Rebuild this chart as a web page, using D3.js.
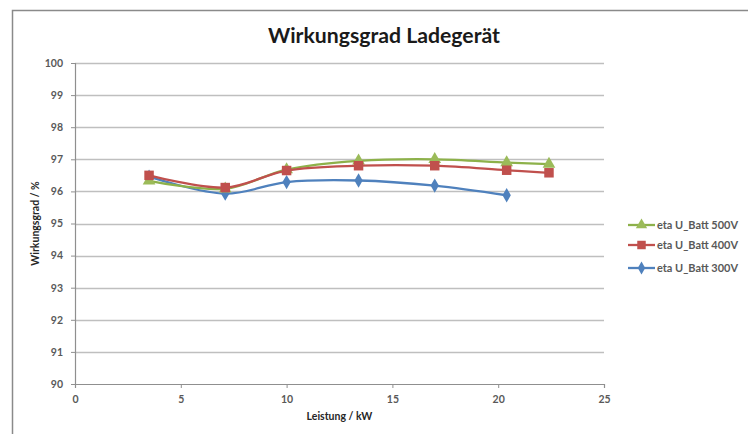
<!DOCTYPE html>
<html>
<head>
<meta charset="utf-8">
<script src="https://cdn.jsdelivr.net/npm/d3@7"></script>
<style>
  html, body { margin: 0; padding: 0; background: #fff; }
  svg { display: block; }
  text { font-family: Lato, "Open Sans", sans-serif; }
</style>
</head>
<body>
<svg id="chart" width="748" height="434"></svg>
<script>
const title = "Wirkungsgrad Ladegerät";
const xTitle = "Leistung / kW";
const yTitle = "Wirkungsgrad / %";
const xTicks = [0, 5, 10, 15, 20, 25];
const yTicks = [90, 91, 92, 93, 94, 95, 96, 97, 98, 99, 100];

const power500 = [3.5, 7.1, 10.0, 13.4, 17.0, 20.4, 22.4];
const eta500   = [96.33, 96.08, 96.68, 96.95, 97.0, 96.9, 96.85];
const power400 = [3.5, 7.1, 10.0, 13.4, 17.0, 20.4, 22.4];
const eta400   = [96.5, 96.12, 96.65, 96.8, 96.8, 96.66, 96.58];
const power300 = [3.5, 7.1, 10.0, 13.4, 17.0, 20.4];
const eta300   = [96.46, 95.93, 96.29, 96.34, 96.18, 95.88];

const seriesNames = ["eta U_Batt 500V", "eta U_Batt 400V", "eta U_Batt 300V"];

const series = [
  { name: seriesNames[0], xs: power500, ys: eta500, color: "#9BBB59", stroke: "#8db14a", symbol: d3.symbolTriangle, size: 70 },
  { name: seriesNames[1], xs: power400, ys: eta400, color: "#C0504D", stroke: "#c0504d", symbol: d3.symbolSquare, size: 90 },
  { name: seriesNames[2], xs: power300, ys: eta300, color: "#4F81BD", stroke: "#4f81bd", symbol: d3.symbolDiamond, size: 60 }
];

const svg = d3.select("#chart");

// outer frame
svg.append("path")
  .attr("d", "M12.5,434 L12.5,10.5 L748,10.5")
  .attr("fill", "none")
  .attr("stroke", "#8a8a8a")
  .attr("stroke-width", 1.5);

const x = d3.scaleLinear().domain([0, 25]).range([75, 604]);
const y = d3.scaleLinear().domain([90, 100]).range([384, 63]);

// gridlines
svg.append("g")
  .selectAll("line")
  .data(yTicks.filter(d => d !== 90))
  .join("line")
  .attr("x1", x(0)).attr("x2", x(25))
  .attr("y1", d => Math.round(y(d)) + 0.5).attr("y2", d => Math.round(y(d)) + 0.5)
  .attr("stroke", "#bfbfbf")
  .attr("stroke-width", 1.3);

const tickFont = sel => sel
  .attr("fill", "#595959")
  .style("font-size", "10.5px")
  .style("font-weight", "bold")
  .style("font-family", "Lato, 'Open Sans', sans-serif");

// y axis
const yAxis = svg.append("g")
  .attr("transform", `translate(${x(0)},0)`)
  .call(d3.axisLeft(y).tickValues(yTicks).tickSize(4).tickPadding(8).tickFormat(d3.format("d")));
yAxis.select(".domain").attr("stroke", "#8f8f8f").attr("stroke-width", 1.2);
yAxis.selectAll(".tick line").attr("stroke", "#8f8f8f");
yAxis.selectAll(".tick text").call(tickFont);

// x axis
const xAxis = svg.append("g")
  .attr("transform", `translate(0,${y(90)})`)
  .call(d3.axisBottom(x).tickValues(xTicks).tickSize(4).tickPadding(8).tickFormat(d3.format("d")));
xAxis.select(".domain").attr("stroke", "#8f8f8f").attr("stroke-width", 1.2);
xAxis.selectAll(".tick line").attr("stroke", "#8f8f8f");
xAxis.selectAll(".tick text").call(tickFont);

// title
svg.append("text")
  .attr("x", 384).attr("y", 43)
  .attr("text-anchor", "middle")
  .style("font-size", "20px")
  .style("font-weight", "bold")
  .attr("fill", "#1a1a1a")
  .attr("textLength", 232)
  .attr("lengthAdjust", "spacingAndGlyphs")
  .text(title);

// axis titles
svg.append("text")
  .attr("x", (x(0) + x(25)) / 2).attr("y", 420)
  .attr("text-anchor", "middle")
  .style("font-size", "10.5px")
  .style("font-weight", "bold")
  .attr("fill", "#262626")
  .text(xTitle);

svg.append("text")
  .attr("transform", `translate(39,${(y(90) + y(100)) / 2}) rotate(-90)`)
  .attr("text-anchor", "middle")
  .style("font-size", "10.5px")
  .style("font-weight", "bold")
  .attr("fill", "#262626")
  .text(yTitle);

// lines and markers
const line = d3.line()
  .x(d => x(d[0]))
  .y(d => y(d[1]))
  .curve(d3.curveCatmullRom.alpha(0.5));

const drawOrder = [series[2], series[0], series[1]];
drawOrder.forEach(s => {
  const pts = s.xs.map((v, i) => [v, s.ys[i]]);
  svg.append("path")
    .datum(pts)
    .attr("d", line)
    .attr("fill", "none")
    .attr("stroke", s.stroke)
    .attr("stroke-width", 2.3)
    .attr("stroke-linejoin", "round");
  svg.append("g")
    .selectAll("path")
    .data(pts)
    .join("path")
    .attr("transform", d => `translate(${x(d[0])},${y(d[1])})`)
    .attr("d", d3.symbol().type(s.symbol).size(s.size))
    .attr("fill", s.color);
});

// legend
const legend = svg.append("g");
const legendY = [225, 245, 268];
series.forEach((s, i) => {
  const g = legend.append("g").attr("transform", `translate(628,${legendY[i]})`);
  g.append("line")
    .attr("x1", 0).attr("x2", 27)
    .attr("y1", 0).attr("y2", 0)
    .attr("stroke", s.stroke)
    .attr("stroke-width", 2.3);
  g.append("path")
    .attr("transform", "translate(13.5,0)")
    .attr("d", d3.symbol().type(s.symbol).size(s.size * 0.8))
    .attr("fill", s.color);
  g.append("text")
    .attr("x", 29).attr("y", 3.8)
    .style("font-size", "10.5px")
    .style("font-weight", "bold")
    .attr("fill", "#595959")
    .attr("textLength", 81)
    .attr("lengthAdjust", "spacingAndGlyphs")
    .text(s.name);
});
</script>
</body>
</html>
